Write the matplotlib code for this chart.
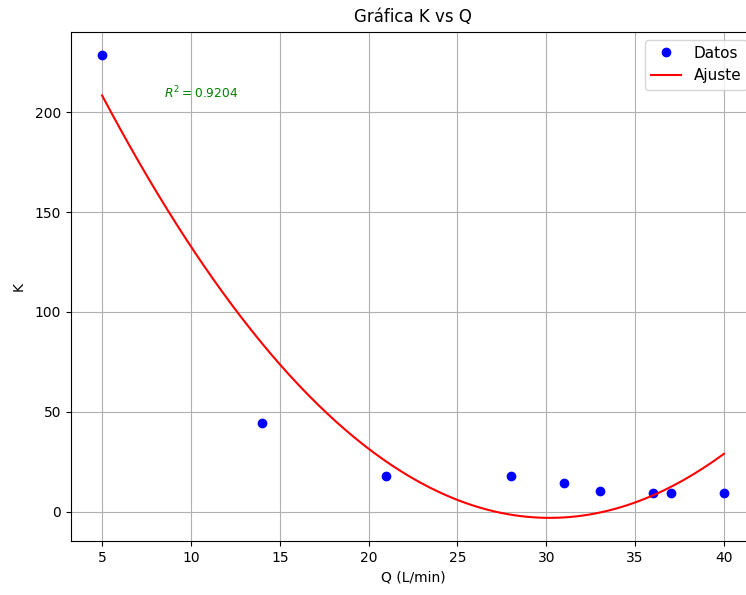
import numpy as np
import matplotlib
matplotlib.use('Agg')
import matplotlib.pyplot as plt

# datos
Q = [5, 14, 21, 28, 31, 33, 36, 37, 40]
K = [228.5, 44.5, 18, 18, 14.5, 10.5, 9.5, 9.5, 9.5]
r2_label = r'$R^2 = 0.9204$'

coef = np.polyfit(Q, K, 2)
f = np.poly1d(coef)
qx = np.linspace(min(Q), max(Q), 200)

fig = plt.figure(figsize=(7.46, 5.95), dpi=100)
ax = fig.add_axes([71/746, 1 - 541/595, 684/746, 509/595])

ax.plot(Q, K, 'bo', label='Datos')
ax.plot(qx, f(qx), 'r-', label='Ajuste')
ax.text(8.5, 209.5, r2_label, color='green', fontsize=8.8, va='center')

ax.set_title('Gráfica K vs Q', pad=7)
ax.set_xlabel('Q (L/min)')
ax.set_ylabel('K', labelpad=7)
ax.grid(True)
ax.legend(loc='upper right', fontsize=11)

fig.savefig('out.png', dpi=100)
